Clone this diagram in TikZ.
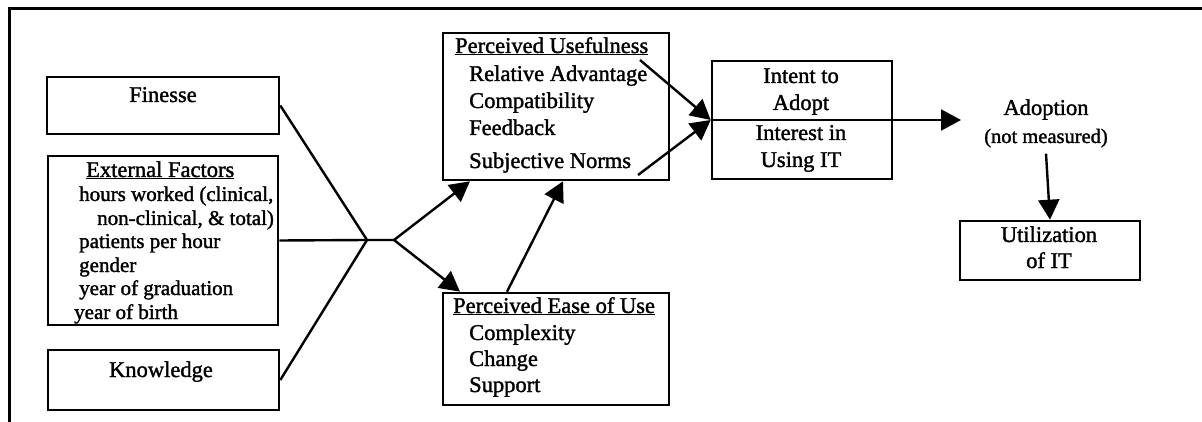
\documentclass[tikz,border=0pt]{standalone}
\usepackage{fontspec}
\setmainfont{Liberation Serif}[FakeBold=1.5]
\usetikzlibrary{arrows.meta,fit}
\tikzset{
  box/.style={draw, line width=2.6pt, inner sep=0pt},
  txt/.style={inner sep=0pt, font=\fontsize{22.5}{27}\selectfont},
  sml/.style={inner sep=0pt, font=\fontsize{21}{24}\selectfont},
  link/.style={line width=2.4pt},
  arr/.style={link, -{Triangle[length=20pt,width=21pt]}}
}
\begin{document}
\begin{tikzpicture}[line join=miter, x=1pt, y=-1pt]
\useasboundingbox (0,0) rectangle (1202,422);
\draw[line width=2.8pt] (9.5,422) -- (9.5,8.5) -- (1202,8.5);

% boxes
\node[box, fit={(47,77) (279,134)}] (fin) {};
\node[box, fit={(48,156) (278,325)}] (ext) {};
\node[box, fit={(48,350) (279,410)}] (know) {};
\node[box, fit={(443,33) (669,180)}] (pu) {};
\node[box, fit={(443,293) (669,405)}] (peou) {};
\node[box, fit={(712,61) (892,179)}] (intent) {};
\node[box, fit={(960,221) (1140,280)}] (util) {};
\draw[line width=2.6pt] (intent.west) -- (intent.east);

% texts
\node[txt, anchor=base] (fin-t) at (163,102) {Finesse};
\node[txt, anchor=base] (know-t) at (161,377) {Knowledge};
\node[txt, anchor=base west] (ext-h) at (86,177) {\underline{External Factors}};
\foreach \x/\y/\t [count=\i] in {79/201/{hours worked (clinical,},97/225/{non-clinical, \& total)},79/248/{patients per hour},79/272/{gender},79/295/{year of graduation},74/319/{year of birth}}
  \node[sml, anchor=base west] (ext-\i) at (\x,\y) {\t};
\node[txt, anchor=base west] (pu-h) at (455,53) {\underline{Perceived Usefulness}};
\foreach \y/\t [count=\i] in {81/{Relative Advantage},108/{Compatibility},135/{Feedback},168/{Subjective Norms}}
  \node[txt, anchor=base west] (pu-\i) at (469,\y) {\t};
\node[txt, anchor=base west] (peou-h) at (453,313) {\underline{Perceived Ease of Use}};
\foreach \y/\t [count=\i] in {340/{Complexity},366/{Change},392/{Support}}
  \node[txt, anchor=base west] (peou-\i) at (469,\y) {\t};
\foreach \y/\t [count=\i] in {83/{Intent to},110/{Adopt},140/{Interest in},167/{Using IT}}
  \node[txt, anchor=base] (intent-\i) at (801,\y) {\t};
\node[txt, anchor=base] (adopt) at (1046,115) {Adoption};
\node[inner sep=0pt, font=\fontsize{20.5}{24}\selectfont, anchor=base] (adopt-n) at (1046,143) {(not measured)};
\foreach \y/\t [count=\i] in {242/{Utilization},268/{of IT}}
  \node[txt, anchor=base] (util-\i) at (1049,\y) {\t};

% connectors
\coordinate (j1) at (367,240);
\coordinate (j2) at (394,240);
\draw[link] (fin.east) -- (j1) -- (j2);
\draw[link] (ext.east) -- (j1);
\draw[link] (know.east) -- (j1);
\draw[arr] (j2) -- ([xshift=-86pt]pu.south);
\draw[arr] (j2) -- ([xshift=-96pt]peou.north);
\draw[arr] ([xshift=-49pt]peou.north) -- ([xshift=7pt]pu.south);
\coordinate (ra) at (640,60);
\coordinate (sn) at (638,175);
\draw[arr] (ra) -- (intent.west);
\draw[arr] (sn) -- (intent.west);
\coordinate (adopt-in) at (961,120);
\draw[arr] (intent.east) -- (adopt-in);
\draw[arr] ([yshift=-6pt]adopt-n.south) -- (util.north);
\end{tikzpicture}
\end{document}
